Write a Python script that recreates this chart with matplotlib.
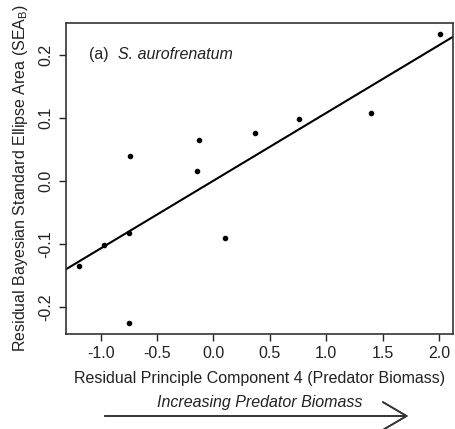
import numpy as np
import matplotlib.pyplot as plt

# residuals
pc4_resid = [-1.19, -0.97, -0.75, -0.75, -0.74, -0.13, -0.15, 0.10, 0.37, 0.76, 1.40, 2.01]
sea_resid = [-0.134, -0.101, -0.082, -0.225, 0.040, 0.065, 0.016, -0.090, 0.076, 0.098, 0.107, 0.232]

x_ticks = [-1.0, -0.5, 0.0, 0.5, 1.0, 1.5, 2.0]
y_ticks = [-0.2, -0.1, 0.0, 0.1, 0.2]

plt.rcParams['font.family'] = ['Liberation Sans', 'DejaVu Sans']
ink = '#222222'

fig = plt.figure(figsize=(4.55, 4.29), dpi=100)
ax = fig.add_axes([66 / 455, 1 - 334 / 429, (453 - 66) / 455, (334 - 23) / 429])

ax.scatter(pc4_resid, sea_resid, s=9, color='black', zorder=3)

slope, intercept = np.polyfit(pc4_resid, sea_resid, 1)
xl = np.array([-1.31, 2.13])
ax.plot(xl, slope * xl + intercept, color='black', lw=1.5)

ax.set_xlim(-1.307, 2.124)
ax.set_ylim(-0.242, 0.25)
ax.set_xticks(x_ticks)
ax.set_xticklabels([f'{v:.1f}' for v in x_ticks])
ax.set_yticks(y_ticks)
ax.set_yticklabels([f'{v:.1f}' for v in y_ticks], rotation=90, va='center')
ax.tick_params(colors=ink, labelsize=11.5, length=5, width=1, pad=4)
for sp in ax.spines.values():
    sp.set_color('#333333')
    sp.set_linewidth(1.2)

ax.set_xlabel('Residual Principle Component 4 (Predator Biomass)', fontsize=11.5, color=ink, labelpad=7)
ax.set_ylabel('Residual Bayesian Standard Ellipse Area (SEA$_{\\mathregular{B}}$)', fontsize=11.5, color=ink, labelpad=6)

ax.text(0.06, 0.90, '(a)', transform=ax.transAxes, fontsize=11.5, color=ink, va='center')
ax.text(0.134, 0.90, 'S. aurofrenatum', transform=ax.transAxes, fontsize=11.5, color=ink,
        style='italic', va='center')

fig.text(260 / 455, 1 - 402 / 429, 'Increasing Predator Biomass', fontsize=11.5, color=ink,
         style='italic', ha='center', va='center')
fig.add_artist(plt.annotate('', xy=(411 / 455, 1 - 416 / 429), xytext=(102 / 455, 1 - 416 / 429),
                            xycoords='figure fraction', textcoords='figure fraction',
                            arrowprops=dict(arrowstyle='->,head_length=1.7,head_width=1.0',
                                            color='#333333', lw=1.2)))

fig.savefig('out.png', dpi=100)
